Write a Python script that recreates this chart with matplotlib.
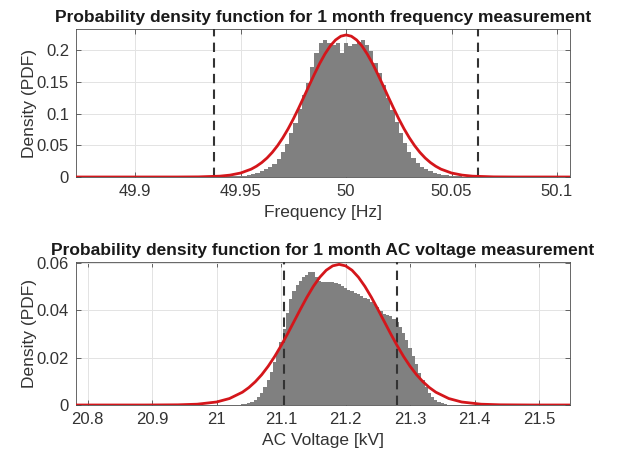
import matplotlib
matplotlib.use("Agg")
import matplotlib.pyplot as plt
import numpy as np

plt.rcParams['font.family'] = ['Liberation Sans', 'DejaVu Sans']

# ---------------- data: frequency ----------------
freq_bins = [49.940, 49.942, 49.944, 49.946, 49.948, 49.950, 49.952, 49.954, 49.956, 49.958,
             49.960, 49.962, 49.964, 49.966, 49.968, 49.970, 49.972, 49.974, 49.976, 49.978,
             49.980, 49.982, 49.984, 49.986, 49.988, 49.990, 49.992, 49.994, 49.996, 49.998,
             50.000, 50.002, 50.004, 50.006, 50.008, 50.010, 50.012, 50.014, 50.016, 50.018,
             50.020, 50.022, 50.024, 50.026, 50.028, 50.030, 50.032, 50.034, 50.036, 50.038,
             50.040, 50.042, 50.044, 50.046, 50.048, 50.050, 50.052, 50.054, 50.056, 50.058,
             50.060]
freq_density = [0.0005, 0.0006, 0.0008, 0.0010, 0.0013, 0.0017, 0.0022, 0.0029, 0.0040, 0.0060,
                0.0090, 0.0120, 0.0155, 0.0210, 0.0290, 0.0390, 0.0520, 0.0690, 0.0860, 0.1080,
                0.1300, 0.1490, 0.1740, 0.1950, 0.2120, 0.2170, 0.2120, 0.2080, 0.2110, 0.1960,
                0.2120, 0.2070, 0.2100, 0.2130, 0.2170, 0.2090, 0.1990, 0.1800, 0.1640, 0.1450,
                0.1250, 0.1060, 0.0870, 0.0690, 0.0540, 0.0390, 0.0300, 0.0220, 0.0160, 0.0120,
                0.0088, 0.0066, 0.0050, 0.0035, 0.0025, 0.0018, 0.0013, 0.0009, 0.0006, 0.0004,
                0.0002]
freq_bin_width = 0.002

freq_fit_x = [49.87, 49.90, 49.92, 49.93, 49.94, 49.945, 49.95, 49.955, 49.9575, 49.96,
              49.9625, 49.965, 49.9675, 49.97, 49.9725, 49.975, 49.9775, 49.98, 49.9825, 49.985,
              49.9875, 49.99, 49.9925, 49.995, 49.9975, 50.0, 50.0025, 50.005, 50.0075, 50.01,
              50.0125, 50.015, 50.0175, 50.02, 50.0225, 50.025, 50.0275, 50.03, 50.0325, 50.035,
              50.0375, 50.04, 50.0425, 50.045, 50.05, 50.055, 50.06, 50.07, 50.08, 50.11]
freq_fit_y = [0.0, 0.0, 0.00002, 0.0002, 0.0013, 0.0030, 0.0063, 0.0124, 0.0170, 0.0228,
              0.0300, 0.0389, 0.0495, 0.0619, 0.0760, 0.0917, 0.1087, 0.1265, 0.1447, 0.1625,
              0.1793, 0.1943, 0.2069, 0.2163, 0.2222, 0.2242, 0.2222, 0.2163, 0.2069, 0.1943,
              0.1793, 0.1625, 0.1447, 0.1265, 0.1087, 0.0917, 0.0760, 0.0619, 0.0495, 0.0389,
              0.0300, 0.0228, 0.0170, 0.0124, 0.0063, 0.0030, 0.0013, 0.0002, 0.00002, 0.0]
freq_limits = [49.9375, 50.0625]

freq_xticks = [49.9, 49.95, 50.0, 50.05, 50.1]
freq_xticklabels = ['49.9', '49.95', '50', '50.05', '50.1']
freq_yticks = [0, 0.05, 0.1, 0.15, 0.2]
freq_yticklabels = ['0', '0.05', '0.1', '0.15', '0.2']

# ---------------- data: AC voltage ----------------
volt_bins = [21.035, 21.040, 21.045, 21.050, 21.055, 21.060, 21.065, 21.070, 21.075, 21.080,
             21.085, 21.090, 21.095, 21.100, 21.105, 21.110, 21.115, 21.120, 21.125, 21.130,
             21.135, 21.140, 21.145, 21.150, 21.155, 21.160, 21.165, 21.170, 21.175, 21.180,
             21.185, 21.190, 21.195, 21.200, 21.205, 21.210, 21.215, 21.220, 21.225, 21.230,
             21.235, 21.240, 21.245, 21.250, 21.255, 21.260, 21.265, 21.270, 21.275, 21.280,
             21.285, 21.290, 21.295, 21.300, 21.305, 21.310, 21.315, 21.320, 21.325, 21.330,
             21.335, 21.340, 21.345, 21.350, 21.355, 21.360]
volt_density = [0.0002, 0.0004, 0.0006, 0.0009, 0.0013, 0.0021, 0.0032, 0.0050, 0.0076, 0.0105,
                0.0140, 0.0180, 0.0225, 0.0266, 0.0320, 0.0390, 0.0445, 0.0480, 0.0505, 0.0523,
                0.0538, 0.0550, 0.0559, 0.0562, 0.0540, 0.0522, 0.0518, 0.0517, 0.0520, 0.0519,
                0.0514, 0.0509, 0.0502, 0.0494, 0.0487, 0.0480, 0.0473, 0.0466, 0.0460, 0.0453,
                0.0446, 0.0436, 0.0426, 0.0412, 0.0398, 0.0385, 0.0380, 0.0375, 0.0362, 0.0348,
                0.0331, 0.0305, 0.0275, 0.0241, 0.0205, 0.0172, 0.0137, 0.0104, 0.0075, 0.0050,
                0.0033, 0.0019, 0.0012, 0.0007, 0.0004, 0.0002]
volt_bin_width = 0.005

volt_fit_x = [20.78, 20.89, 20.94, 20.97, 21.00, 21.02, 21.04, 21.05, 21.06, 21.07,
              21.08, 21.09, 21.10, 21.11, 21.12, 21.13, 21.14, 21.15, 21.16, 21.17,
              21.18, 21.19, 21.20, 21.21, 21.22, 21.23, 21.24, 21.25, 21.26, 21.27,
              21.28, 21.29, 21.30, 21.31, 21.32, 21.33, 21.34, 21.36, 21.38, 21.41,
              21.44, 21.49, 21.55]
volt_fit_y = [0.0, 0.0, 0.00008, 0.00034, 0.00127, 0.00273, 0.00539, 0.00735, 0.0098, 0.01278,
              0.01634, 0.02043, 0.02502, 0.02998, 0.03518, 0.0404, 0.04543, 0.0500, 0.05387, 0.05683,
              0.05867, 0.0593, 0.05867, 0.05683, 0.05387, 0.0500, 0.04543, 0.0404, 0.03518, 0.02998,
              0.02502, 0.02043, 0.01634, 0.01278, 0.0098, 0.00735, 0.00539, 0.00273, 0.00127, 0.00034,
              0.00008, 0.0, 0.0]
volt_limits = [21.104, 21.280]

volt_xticks = [20.8, 20.9, 21.0, 21.1, 21.2, 21.3, 21.4, 21.5]
volt_xticklabels = ['20.8', '20.9', '21', '21.1', '21.2', '21.3', '21.4', '21.5']
volt_yticks = [0, 0.02, 0.04, 0.06]
volt_yticklabels = ['0', '0.02', '0.04', '0.06']

# ---------------- styling ----------------
HIST_COLOR = '#808080'
FIT_COLOR = '#d4161b'
DASH_COLOR = '#333333'
TXT_COLOR = '#333333'
AX_COLOR = '#4d4d4d'
GRID_COLOR = '#e3e3e3'

fig = plt.figure(figsize=(6.19, 4.58), dpi=100)
W, H = 619, 458


def add_ax(l, r, t, b):
    return fig.add_axes([l / W, 1 - b / H, (r - l) / W, (b - t) / H])


ax1 = add_ax(76, 570, 29, 177)
ax2 = add_ax(76, 570, 262, 405)


def style(ax, xticks, xlabels, yticks, ylabels, xlim, ylim, title, xlabel):
    ax.set_axisbelow(True)
    ax.grid(True, color=GRID_COLOR, lw=0.7)
    ax.set_xlim(*xlim)
    ax.set_ylim(*ylim)
    ax.set_xticks(xticks)
    ax.set_xticklabels(xlabels)
    ax.set_yticks(yticks)
    ax.set_yticklabels(ylabels)
    ax.tick_params(direction='in', top=True, right=True, length=3.5, width=0.6,
                   color=AX_COLOR, labelcolor=TXT_COLOR, labelsize=12, pad=5)
    for s in ax.spines.values():
        s.set_color(AX_COLOR)
        s.set_linewidth(0.6)
    ax.set_title(title, fontsize=12.5, fontweight='bold', color='#1a1a1a', pad=5)
    ax.set_xlabel(xlabel, fontsize=12.5, color=TXT_COLOR, labelpad=4)
    ax.set_ylabel('Density (PDF)', fontsize=12.5, color=TXT_COLOR, labelpad=0)


def hist(ax, bins, dens, width):
    # bars of equal width, drawn as one filled step outline (no seams between bars)
    centers = np.asarray(bins)
    edges = np.append(centers - width / 2, centers[-1] + width / 2)
    ax.stairs(dens, edges, fill=True, color=HIST_COLOR, linewidth=0, zorder=2)


hist(ax1, freq_bins, freq_density, freq_bin_width)
for v in freq_limits:
    ax1.axvline(v, color=DASH_COLOR, lw=1.5, ls=(0, (4.5, 3)), zorder=3)
ax1.plot(freq_fit_x, freq_fit_y, color=FIT_COLOR, lw=2.0, zorder=4)
style(ax1, freq_xticks, freq_xticklabels, freq_yticks, freq_yticklabels,
      (49.8719, 50.1062), (0, 0.2336),
      'Probability density function for 1 month frequency measurement', 'Frequency [Hz]')

hist(ax2, volt_bins, volt_density, volt_bin_width)
for v in volt_limits:
    ax2.axvline(v, color=DASH_COLOR, lw=1.5, ls=(0, (4.5, 3)), zorder=3)
ax2.plot(volt_fit_x, volt_fit_y, color=FIT_COLOR, lw=2.0, zorder=4)
style(ax2, volt_xticks, volt_xticklabels, volt_yticks, volt_yticklabels,
      (20.782, 21.548), (0, 0.0603),
      'Probability density function for 1 month AC voltage measurement', 'AC Voltage [kV]')

fig.savefig('out.png', dpi=100)
